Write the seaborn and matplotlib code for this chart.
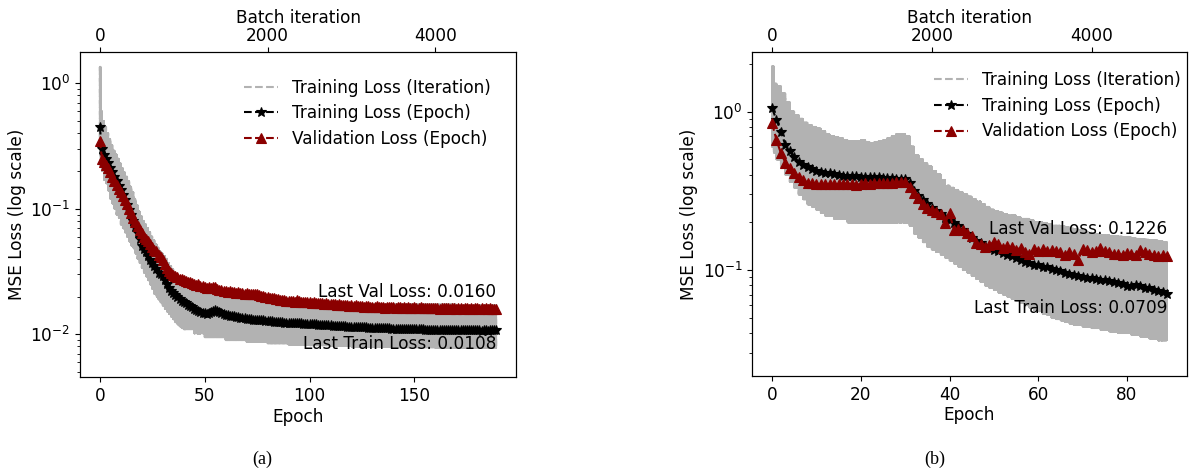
import numpy as np
import matplotlib
matplotlib.use("Agg")
import matplotlib.pyplot as plt
from matplotlib.ticker import MultipleLocator
import seaborn as sns

# ---------------- data ----------------
# Panel (a): per-epoch losses, epochs 0..189
a_train = [
    0.45, 0.30, 0.27, 0.25, 0.23, 0.21, 0.195, 0.18, 0.165, 0.152,
    0.14, 0.128, 0.118, 0.108, 0.098, 0.089, 0.080, 0.072, 0.064, 0.057,
    0.051, 0.048, 0.045, 0.042, 0.039, 0.037, 0.035, 0.033, 0.031, 0.030,
    0.029, 0.027, 0.025, 0.0235, 0.022, 0.0214, 0.0205, 0.0197, 0.019, 0.0185,
    0.0182, 0.0177, 0.0172, 0.0168, 0.0164, 0.0160, 0.0157, 0.0154, 0.0151, 0.0149,
    0.0147, 0.0146, 0.0147, 0.0150, 0.0154, 0.0157, 0.0154, 0.0150, 0.0147, 0.0145,
    0.0143, 0.0142, 0.0141, 0.0140, 0.0139, 0.0138, 0.0137, 0.0136, 0.0135, 0.0134,
    0.0133, 0.0133, 0.0132, 0.0131, 0.0131, 0.0130, 0.0130, 0.0129, 0.0129, 0.0128,
    0.0128, 0.0127, 0.0127, 0.0126, 0.0126, 0.0125, 0.0125, 0.0125, 0.0124, 0.0124,
    0.0124, 0.0123, 0.0123, 0.0123, 0.0122, 0.0122, 0.0122, 0.0121, 0.0121, 0.0121,
    0.0121, 0.0120, 0.0120, 0.0120, 0.0119, 0.0119, 0.0119, 0.0118, 0.0118, 0.0118,
    0.0118, 0.0117, 0.0117, 0.0117, 0.0116, 0.0116, 0.0116, 0.0116, 0.0115, 0.0115,
    0.0115, 0.0115, 0.0115, 0.0114, 0.0114, 0.0114, 0.0114, 0.0114, 0.0113, 0.0113,
    0.0113, 0.0113, 0.0113, 0.0112, 0.0112, 0.0112, 0.0112, 0.0112, 0.0112, 0.0111,
    0.0111, 0.0111, 0.0111, 0.0111, 0.0111, 0.0111, 0.0110, 0.0110, 0.0110, 0.0110,
    0.0110, 0.0110, 0.0110, 0.0110, 0.0110, 0.0109, 0.0109, 0.0109, 0.0109, 0.0109,
    0.0109, 0.0109, 0.0109, 0.0109, 0.0109, 0.0109, 0.0108, 0.0109, 0.0108, 0.0108,
    0.0108, 0.0108, 0.0108, 0.0108, 0.0108, 0.0108, 0.0108, 0.0108, 0.0108, 0.0108,
    0.0108, 0.0108, 0.0107, 0.0108, 0.0108, 0.0107, 0.0108, 0.0108, 0.0108, 0.0108,
]
a_val = [
    0.35, 0.25, 0.235, 0.225, 0.21, 0.195, 0.18, 0.168, 0.155, 0.145,
    0.135, 0.126, 0.117, 0.11, 0.10, 0.092, 0.085, 0.078, 0.073, 0.068,
    0.064, 0.060, 0.057, 0.055, 0.052, 0.050, 0.047, 0.046, 0.043, 0.041,
    0.039, 0.036, 0.034, 0.032, 0.031, 0.0296, 0.029, 0.0285, 0.0278, 0.0275,
    0.027, 0.0265, 0.026, 0.0262, 0.0256, 0.0252, 0.0248, 0.0250, 0.0244, 0.0241,
    0.024, 0.0236, 0.0238, 0.0232, 0.0240, 0.0237, 0.0228, 0.0226, 0.0224, 0.0223,
    0.0222, 0.0219, 0.0221, 0.0216, 0.0218, 0.0214, 0.0216, 0.0212, 0.0214, 0.0211,
    0.0212, 0.0210, 0.0211, 0.0208, 0.0210, 0.0209, 0.0206, 0.0203, 0.0201, 0.0199,
    0.0197, 0.0196, 0.0194, 0.0193, 0.0190, 0.0191, 0.0189, 0.0186, 0.0187, 0.0184,
    0.0185, 0.0183, 0.0184, 0.0182, 0.0186, 0.0183, 0.0181, 0.0182, 0.0180, 0.0182,
    0.0182, 0.0179, 0.0180, 0.0178, 0.0179, 0.0176, 0.0178, 0.0175, 0.0177, 0.0174,
    0.0175, 0.0173, 0.0174, 0.0172, 0.0173, 0.0171, 0.0172, 0.0170, 0.0171, 0.0169,
    0.0170, 0.0168, 0.0170, 0.0167, 0.0169, 0.0168, 0.0166, 0.0168, 0.0167, 0.0165,
    0.0166, 0.0165, 0.0167, 0.0164, 0.0166, 0.0165, 0.0163, 0.0165, 0.0164, 0.0166,
    0.0164, 0.0163, 0.0165, 0.0164, 0.0162, 0.0164, 0.0163, 0.0165, 0.0163, 0.0162,
    0.0164, 0.0163, 0.0162, 0.0164, 0.0162, 0.0163, 0.0161, 0.0163, 0.0162, 0.0161,
    0.0163, 0.0162, 0.0160, 0.0162, 0.0161, 0.0163, 0.0161, 0.0160, 0.0162, 0.0161,
    0.0160, 0.0162, 0.0161, 0.0160, 0.0161, 0.0162, 0.0160, 0.0161, 0.0160, 0.0161,
    0.0162, 0.0160, 0.0161, 0.0160, 0.0161, 0.0159, 0.0161, 0.0160, 0.0159, 0.0160,
]
# Panel (a): per-iteration loss envelope (segment start epoch, upper, lower)
a_iter_epoch = [0, 0.4] + list(range(1, 41)) + [45, 50, 55, 60, 70, 80, 90, 100, 110,
                                                  120, 130, 140, 150, 160, 170, 180]
a_iter_hi = [1.35, 0.6,
             0.5, 0.45, 0.4, 0.36, 0.32, 0.29, 0.27, 0.25, 0.23, 0.21,
             0.195, 0.18, 0.165, 0.15, 0.135, 0.12, 0.107, 0.095, 0.087, 0.08,
             0.075, 0.07, 0.065, 0.06, 0.056, 0.052, 0.049, 0.046, 0.044, 0.042,
             0.04, 0.037, 0.035, 0.033, 0.031, 0.03, 0.029, 0.028, 0.027, 0.026,
             0.023, 0.021, 0.021, 0.019, 0.0185, 0.018, 0.0178, 0.0176, 0.0175,
             0.0174, 0.0173, 0.0173, 0.0172, 0.0172, 0.0171, 0.0171]
a_iter_lo = [0.35, 0.22,
             0.2, 0.17, 0.16, 0.14, 0.12, 0.11, 0.1, 0.09, 0.085, 0.075,
             0.07, 0.065, 0.06, 0.055, 0.051, 0.048, 0.044, 0.04, 0.037, 0.034,
             0.031, 0.029, 0.027, 0.025, 0.023, 0.021, 0.02, 0.019, 0.018, 0.017,
             0.016, 0.0152, 0.0145, 0.0138, 0.0132, 0.0125, 0.012, 0.0116, 0.0113, 0.011,
             0.0102, 0.0095, 0.0095, 0.009, 0.0087, 0.0085, 0.0083, 0.0082, 0.0081,
             0.008, 0.008, 0.0079, 0.0079, 0.0078, 0.0078, 0.0078]
a_iters_per_epoch = 25

# Panel (b): per-epoch losses, epochs 0..89
b_train = [
    1.05, 0.887, 0.748, 0.616, 0.567, 0.515, 0.483, 0.46, 0.445, 0.432,
    0.424, 0.418, 0.412, 0.407, 0.402, 0.398, 0.395, 0.393, 0.391, 0.39,
    0.389, 0.388, 0.387, 0.386, 0.385, 0.383, 0.382, 0.380, 0.378, 0.376,
    0.374, 0.353, 0.316, 0.294, 0.277, 0.262, 0.248, 0.236, 0.225, 0.214,
    0.207, 0.198, 0.189, 0.178, 0.168, 0.160, 0.152, 0.147, 0.142, 0.138,
    0.134, 0.131, 0.128, 0.125, 0.122, 0.119, 0.116, 0.113, 0.110, 0.108,
    0.107, 0.105, 0.104, 0.102, 0.100, 0.098, 0.0955, 0.094, 0.093, 0.0918,
    0.0907, 0.0895, 0.0885, 0.0877, 0.087, 0.0865, 0.0855, 0.0845, 0.083, 0.081,
    0.0792, 0.0795, 0.080, 0.079, 0.0775, 0.0766, 0.075, 0.0738, 0.0725, 0.0709,
]
b_val = [
    0.845, 0.662, 0.546, 0.477, 0.439, 0.408, 0.389, 0.371, 0.356, 0.352,
    0.350, 0.349, 0.348, 0.350, 0.347, 0.349, 0.350, 0.351, 0.348, 0.345,
    0.349, 0.352, 0.350, 0.354, 0.356, 0.355, 0.352, 0.356, 0.360, 0.361,
    0.358, 0.336, 0.305, 0.283, 0.262, 0.245, 0.240, 0.233, 0.226, 0.197,
    0.228, 0.179, 0.182, 0.179, 0.171, 0.163, 0.147, 0.145, 0.140, 0.143,
    0.151, 0.146, 0.137, 0.141, 0.140, 0.134, 0.138, 0.130, 0.127, 0.135,
    0.132, 0.135, 0.131, 0.133, 0.132, 0.129, 0.124, 0.130, 0.127, 0.116,
    0.135, 0.133, 0.130, 0.131, 0.137, 0.132, 0.130, 0.127, 0.126, 0.125,
    0.128, 0.127, 0.125, 0.133, 0.130, 0.127, 0.125, 0.122, 0.124, 0.1226,
]
b_iter_epoch = [0, 0.4] + list(range(1, 89))
b_iter_hi = [1.93, 1.5,
             1.45, 1.3, 1.15, 1.0, 0.95, 0.9, 0.85, 0.82, 0.8, 0.78,
             0.75, 0.72, 0.7, 0.69, 0.68, 0.66, 0.65, 0.65, 0.65, 0.66,
             0.64, 0.63, 0.64, 0.65, 0.66, 0.68, 0.7, 0.72, 0.72, 0.7,
             0.6, 0.53, 0.5, 0.47, 0.45, 0.42, 0.4, 0.37, 0.34, 0.33,
             0.32, 0.31, 0.3, 0.29, 0.28, 0.27, 0.26, 0.25, 0.24, 0.235,
             0.23, 0.225, 0.22, 0.22, 0.215, 0.21, 0.21, 0.205, 0.2, 0.2,
             0.198, 0.195, 0.19, 0.19, 0.188, 0.185, 0.182, 0.18, 0.178, 0.175,
             0.172, 0.17, 0.168, 0.166, 0.165, 0.164, 0.163, 0.162, 0.16, 0.16,
             0.158, 0.157, 0.156, 0.155, 0.154, 0.153, 0.152, 0.15]
b_iter_lo = [0.6, 0.55,
             0.5, 0.45, 0.4, 0.36, 0.33, 0.3, 0.28, 0.26, 0.25, 0.24,
             0.23, 0.22, 0.22, 0.21, 0.21, 0.21, 0.2, 0.2, 0.2, 0.2,
             0.2, 0.2, 0.2, 0.2, 0.2, 0.2, 0.2, 0.2, 0.2, 0.2,
             0.19, 0.17, 0.16, 0.15, 0.14, 0.135, 0.13, 0.125, 0.12, 0.115,
             0.11, 0.105, 0.1, 0.096, 0.092, 0.088, 0.084, 0.08, 0.077, 0.075,
             0.072, 0.07, 0.068, 0.066, 0.064, 0.062, 0.06, 0.058, 0.056, 0.055,
             0.053, 0.052, 0.05, 0.049, 0.048, 0.047, 0.046, 0.045, 0.045, 0.044,
             0.044, 0.043, 0.043, 0.042, 0.042, 0.041, 0.041, 0.04, 0.04, 0.04,
             0.039, 0.039, 0.038, 0.038, 0.037, 0.037, 0.036, 0.036]
b_iters_per_epoch = 55.5

LABEL_ITER = "Training Loss (Iteration)"
LABEL_TRAIN = "Training Loss (Epoch)"
LABEL_VAL = "Validation Loss (Epoch)"

# ---------------- style ----------------
plt.rcParams.update({
    "font.size": 12.2,
    "font.family": ["DejaVu Sans"],
    "mathtext.fontset": "dejavusans",
})
GRAY = "#b2b2b2"
RED = "darkred"


def iteration_series(seg_start, hi, lo, last_epoch, ipe):
    """Draw the per-iteration loss as a dense trace between the read envelopes."""
    bounds = list(seg_start) + [last_epoch]
    xs, ys = [], []
    for i in range(len(seg_start)):
        a, b = bounds[i] * ipe, bounds[i + 1] * ipe
        n = max(2, int(round(b - a)))
        pos = np.linspace(a, b, n, endpoint=False)
        for j, p in enumerate(pos):
            xs.append(p)
            ys.append(hi[i] if j % 2 == 0 else lo[i])
    xs.append(last_epoch * ipe)
    ys.append(lo[-1])
    return np.array(xs), np.array(ys)


def draw_panel(ax, train, val, seg_start, hi, lo, ipe, ylim, xstep,
               val_fac, train_fac, leg_anchor):
    n = len(train)
    ep = np.arange(n)
    ax.set_yscale("log")
    ax_top = ax.twiny()

    ix, iy = iteration_series(seg_start, hi, lo, n - 1, ipe)
    sns.lineplot(x=ix, y=iy, ax=ax_top, color=GRAY, linestyle="--", linewidth=1.5,
                 estimator=None, sort=False, legend=False)
    h_iter = ax_top.lines[-1]
    h_iter.set_label(LABEL_ITER)

    sns.lineplot(x=ep, y=train, ax=ax, color="k", linestyle="--", linewidth=1.5,
                 marker="*", markersize=7, markeredgecolor="k", markerfacecolor="k",
                 markeredgewidth=0.8, estimator=None, legend=False)
    h_train = ax.lines[-1]
    h_train.set_label(LABEL_TRAIN)
    sns.lineplot(x=ep, y=val, ax=ax, color=RED, linestyle="--", linewidth=1.5,
                 marker="^", markersize=6.5, markeredgecolor=RED, markerfacecolor=RED,
                 markeredgewidth=0.8, estimator=None, legend=False)
    h_val = ax.lines[-1]
    h_val.set_label(LABEL_VAL)

    # put epoch axes (and its lines) above the iteration trace
    ax.set_zorder(ax_top.get_zorder() + 1)
    ax.patch.set_visible(False)

    xl = (-0.05 * (n - 1), 1.05 * (n - 1))
    ax.set_xlim(*xl)
    ax_top.set_xlim(xl[0] * ipe, xl[1] * ipe)
    ax.set_ylim(*ylim)
    ax.xaxis.set_major_locator(MultipleLocator(xstep))
    ax_top.xaxis.set_major_locator(MultipleLocator(2000))
    ax_top.tick_params(axis="x", pad=1.5)

    ax.set_xlabel("Epoch", labelpad=2)
    ax.set_ylabel("MSE Loss (log scale)", labelpad=3)
    ax_top.set_xlabel("Batch iteration", labelpad=3)
    ax_top.set_ylabel("")

    ax.text(ep[-1], val[-1] * val_fac, f"Last Val Loss: {val[-1]:.4f}",
            ha="right", va="bottom")
    ax.text(ep[-1], train[-1] * train_fac, f"Last Train Loss: {train[-1]:.4f}",
            ha="right", va="top")

    ax.legend([h_iter, h_train, h_val], [LABEL_ITER, LABEL_TRAIN, LABEL_VAL],
              loc="upper right", bbox_to_anchor=leg_anchor, frameon=False,
              labelspacing=0.45)


fig = plt.figure(figsize=(11.91, 4.70), dpi=100)
ax_a = fig.add_axes([80 / 1191, 1 - 377 / 470, 436 / 1191, 325 / 470])
ax_b = fig.add_axes([752.3 / 1191, 1 - 376 / 470, 434.4 / 1191, 323.7 / 470])

draw_panel(ax_a, a_train, a_val, a_iter_epoch, a_iter_hi, a_iter_lo, a_iters_per_epoch,
           (0.00457, 1.775), 50, 1.16, 0.91, (0.976, 0.9645))
draw_panel(ax_b, b_train, b_val, b_iter_epoch, b_iter_hi, b_iter_lo, b_iters_per_epoch,
           (0.0214, 2.37), 20, 1.30, 0.93, (1.0207, 0.9887))

fig.text(262 / 1191, 1 - 459 / 470, "(a)", ha="center", va="center",
         family=["Liberation Serif"], fontsize=13)
fig.text((262 + 672.3) / 1191, 1 - 459 / 470, "(b)", ha="center", va="center",
         family=["Liberation Serif"], fontsize=13)

fig.savefig("out.png", dpi=100)
